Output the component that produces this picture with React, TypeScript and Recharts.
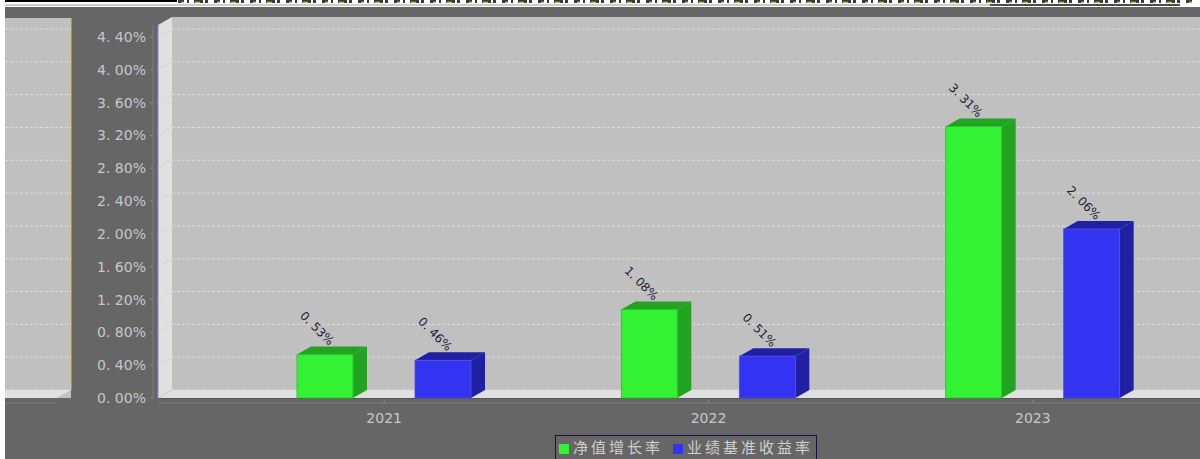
import React from "react";
import { BarChart, Bar, XAxis, YAxis, CartesianGrid, Legend, LabelList } from "recharts";

const years = ["2021", "2022", "2023"];
const navGrowth = [0.53, 1.08, 3.31];
const benchmarkReturn = [0.46, 0.51, 2.06];
const yTicks = [0, 0.4, 0.8, 1.2, 1.6, 2.0, 2.4, 2.8, 3.2, 3.6, 4.0, 4.4];
const seriesNames = ["净值增长率", "业绩基准收益率"];
const rows = years.map((year, i) => ({ year, nav: navGrowth[i], bench: benchmarkReturn[i] }));

const DX = 14;
const DY = 8;
const BG = "#666666";
const FONT = "'DejaVu Sans', sans-serif";
const fmt = (v: number) => {
  const s = v.toFixed(2);
  return s.replace(".", ". ") + "%";
};

const makeBar = (front: string, top: string, side: string, edge: string) => (p: any) => {
  const { x, y, width: w, height: h } = p;
  return (
    <g>
      <polygon points={`${x},${y} ${x + DX},${y - DY} ${x + w + DX},${y - DY} ${x + w},${y}`} fill={top} />
      <polygon points={`${x + w},${y} ${x + w + DX},${y - DY} ${x + w + DX},${y + h - DY} ${x + w},${y + h}`} fill={side} />
      <rect x={x} y={y} width={w} height={h} fill={front} stroke={edge} strokeWidth={0.8} />
    </g>
  );
};

const ValueLabel = (p: any) => {
  const { x, y, width, value } = p;
  const cx = x + width / 2 - 8;
  const cy = y - 26;
  return (
    <text x={cx} y={cy} textAnchor="middle" dominantBaseline="central" fontSize={12} fontFamily={FONT} fill="#1c1c38" transform={`rotate(45 ${cx} ${cy})`}>
      {fmt(value)}
    </text>
  );
};

const YTick = (p: any) => {
  const { y, payload } = p;
  return (
    <g>
      <line x1={150} x2={153} y1={y} y2={y} stroke="#8a8a8a" />
      <text x={146} y={y} textAnchor="end" dominantBaseline="central" fontSize={14} fontFamily={FONT} fill="#c8c8c8">
        {fmt(payload.value)}
      </text>
    </g>
  );
};

const XTick = (p: any) => {
  const { x, payload } = p;
  return (
    <g>
      <line x1={x} x2={x} y1={400} y2={403} stroke="#8a8a8a" />
      <text x={x} y={418} textAnchor="middle" dominantBaseline="central" fontSize={14} fontFamily={FONT} fill="#c8c8c8">
        {payload.value}
      </text>
    </g>
  );
};

const GridLine = (p: any) => {
  const { x2, y1 } = p;
  const y = y1 - DY;
  return (
    <g stroke="#dcdcdc" strokeWidth={1} strokeDasharray="3 2" fill="none">
      <line x1={158} y1={y1} x2={172} y2={y} stroke="#cfcfcf" />
      <line x1={172} y1={y} x2={x2} y2={y} />
      <line x1={5} y1={y} x2={71} y2={y} />
    </g>
  );
};

const Backdrop = () => (
  <svg width={1200} height={459} style={{ position: "absolute", left: 0, top: 0 }}>
    <rect x={5} y={7} width={1195} height={452} fill={BG} />
    <line x1={5} y1={1} x2={177} y2={1} stroke="#000" strokeWidth={2} />
    <line x1={5} y1={5} x2={990} y2={5} stroke="#9a9a9a" strokeWidth={1} />
    <line x1={990} y1={5} x2={1180} y2={5} stroke="#111" strokeWidth={1.4} />
    <line x1={178} y1={1.5} x2={1195} y2={1.5} stroke="#3a3a3a" strokeWidth={3} strokeDasharray="6 3 2 5 9 2 3 6" />
    <line x1={181} y1={2.5} x2={1195} y2={2.5} stroke="#c8c850" strokeWidth={1.5} strokeDasharray="3 11 5 17" />
    <rect x={5} y={18} width={66} height={380} fill="#c0c0c0" />
    <polygon points="5,390 71,390 57,398 5,398" fill="#e0e0e0" />
    <line x1={71} y1={18} x2={71} y2={390} stroke="#c9c94a" />
    <line x1={5} y1={403} x2={57} y2={403} stroke="#7d7d7d" />
    <rect x={172} y={17} width={1028} height={373} fill="#c0c0c0" />
    <polygon points="158,25 172,17 172,390 158,398" fill="#e0e0e0" />
    <polygon points="158,398 172,390 1200,390 1200,398" fill="#e0e0e0" />
    <line x1={158} y1={25} x2={158} y2={398} stroke="#8080e8" />
    <line x1={158} y1={398.5} x2={1200} y2={398.5} stroke="#555555" />
    <line x1={153} y1={25} x2={153} y2={398} stroke="#7d7d7d" />
    <line x1={158} y1={403} x2={1200} y2={403} stroke="#7d7d7d" />
  </svg>
);

export default function App() {
  return (
    <div style={{ position: "absolute", left: 0, top: 0, width: 1200, height: 459, overflow: "hidden", background: "#fff" }}>
      <Backdrop />
      <div style={{ position: "absolute", left: 0, top: 0 }}>
        <BarChart
          width={1200}
          height={459}
          data={rows}
          margin={{ top: 37, right: 0, bottom: 31, left: 0 }}
          barSize={56}
          barGap={62}
        >
          <CartesianGrid x={158} width={1042} vertical={false} horizontal={GridLine as any} />
          <XAxis dataKey="year" height={30} axisLine={false} tickLine={false} tick={XTick} padding={{ left: 64, right: 5 }} interval={0} />
          <YAxis width={158} domain={[0, 4.4]} ticks={yTicks} axisLine={false} tickLine={false} tick={YTick} interval={0} />
          <Legend
            layout="horizontal"
            verticalAlign="middle"
            align="center"
            iconType="square"
            iconSize={10}
            itemSorter={null}
            formatter={(v: string) => (
              <span style={{ color: "#d0d0d0", fontFamily: "'Noto Sans CJK SC'", fontSize: 15, letterSpacing: 3 }}>{v}</span>
            )}
            wrapperStyle={{
              left: 555,
              top: 435,
              width: 262,
              height: 36,
              boxSizing: "border-box",
              border: "1px solid #14144a",
              paddingTop: 0,
              paddingLeft: 3,
              whiteSpace: "nowrap",
              textAlign: "left",
            }}
          />
          <Bar dataKey="nav" name={seriesNames[0]} fill="#33f233" isAnimationActive={false} shape={makeBar("#33f233", "#22a322", "#22a322", "#2bbf2b")}>
            <LabelList dataKey="nav" content={ValueLabel} />
          </Bar>
          <Bar dataKey="bench" name={seriesNames[1]} fill="#3333f2" isAnimationActive={false} shape={makeBar("#3333f2", "#2020a5", "#2020a5", "#5050d8")}>
            <LabelList dataKey="bench" content={ValueLabel} />
          </Bar>
        </BarChart>
      </div>
    </div>
  );
}
